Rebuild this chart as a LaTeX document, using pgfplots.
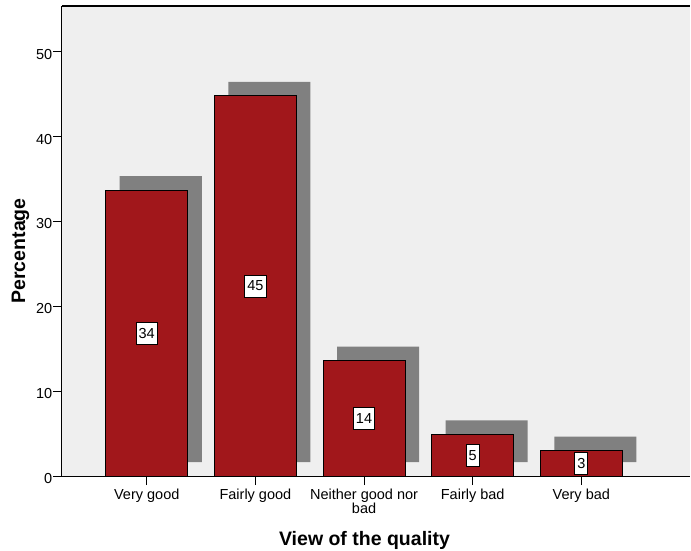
\documentclass[border=0pt]{standalone}
\usepackage{fontspec}
\setmainfont{Liberation Sans}
\usepackage{pgfplots}
\usepackage{pgfplotstable}
\pgfplotsset{compat=1.18}

\definecolor{plotbg}{RGB}{239,239,239}
\definecolor{barred}{RGB}{161,23,27}
\definecolor{shadowgray}{RGB}{128,128,128}

% share of respondents per rating
\pgfplotstableread{
cat v
0 33.7
1 44.8
2 13.6
3 4.9
4 3.0
}\quality

\pgfplotsset{
  frame/.style={
    width=628pt, height=470pt, scale only axis,
    at={(0,0)}, anchor=south west,
    xmin=-0.78, xmax=5.0, ymin=0, ymax=55.4,
  },
}

\begin{document}
\begin{tikzpicture}
% back layer: panel fill and the offset drop shadows
\begin{axis}[frame,
  axis background/.style={fill=plotbg},
  axis line style={draw=none},
  xtick=\empty, ytick=\empty,
  ybar stacked, bar width=0.755, bar shift=0.129,
]
\addplot[fill=none, draw=none] coordinates {(0,1.65) (1,1.65) (2,1.65) (3,1.65) (4,1.65)};
\addplot[fill=shadowgray, draw=none] table[x=cat, y=v] {\quality};
\end{axis}

% front layer: bars, value boxes, axes
\begin{axis}[frame,
  clip=false,
  axis lines*=left,
  axis line style={line width=1pt, black},
  tick align=outside,
  major tick length=9pt,
  every tick/.style={black, line width=1pt},
  xtick={0,1,2,3,4},
  xticklabels={Very good, Fairly good, {Neither good nor\\bad}, Fairly bad, Very bad},
  xticklabel style={align=center, font=\fontsize{14.5}{14}\selectfont, inner ysep=2pt, yshift=-2pt},
  ytick={0,10,20,30,40,50},
  yticklabel style={font=\fontsize{14.5}{14}\selectfont, inner xsep=0.5pt, yshift=-2.5pt},
  /pgf/number format/assume math mode=true,
]
\addplot[ybar, bar width=0.755, bar shift=0, fill=barred, draw=black, line width=1pt]
  table[x=cat, y=v] {\quality};
\addplot[draw=none, mark=none,
  nodes near coords={\pgfmathprintnumber[fixed,precision=0]{\pgfplotspointmeta}},
  point meta=explicit,
  every node near coord/.style={anchor=center, fill=white, draw=black, line width=0.8pt,
    inner xsep=2.5pt, inner ysep=0pt, minimum height=22pt,
    font=\fontsize{14.5}{14.5}\selectfont},
] table[x=cat, y expr=\thisrow{v}/2, meta=v] {\quality};
\draw[line width=1.6pt, black] (rel axis cs:0,1) -- (rel axis cs:1,1);
\node[anchor=base, font=\bfseries\fontsize{19.5}{20}\selectfont]
  at (axis description cs:0.4817,-0.1489) {View of the quality};
\node[rotate=90, anchor=base, font=\bfseries\fontsize{19.5}{20}\selectfont]
  at (axis description cs:-0.0589,0.479) {Percentage};
\end{axis}
\pgfresetboundingbox
\path[use as bounding box] (-62pt,-74pt) rectangle (629pt,476pt);
\end{tikzpicture}
\end{document}
